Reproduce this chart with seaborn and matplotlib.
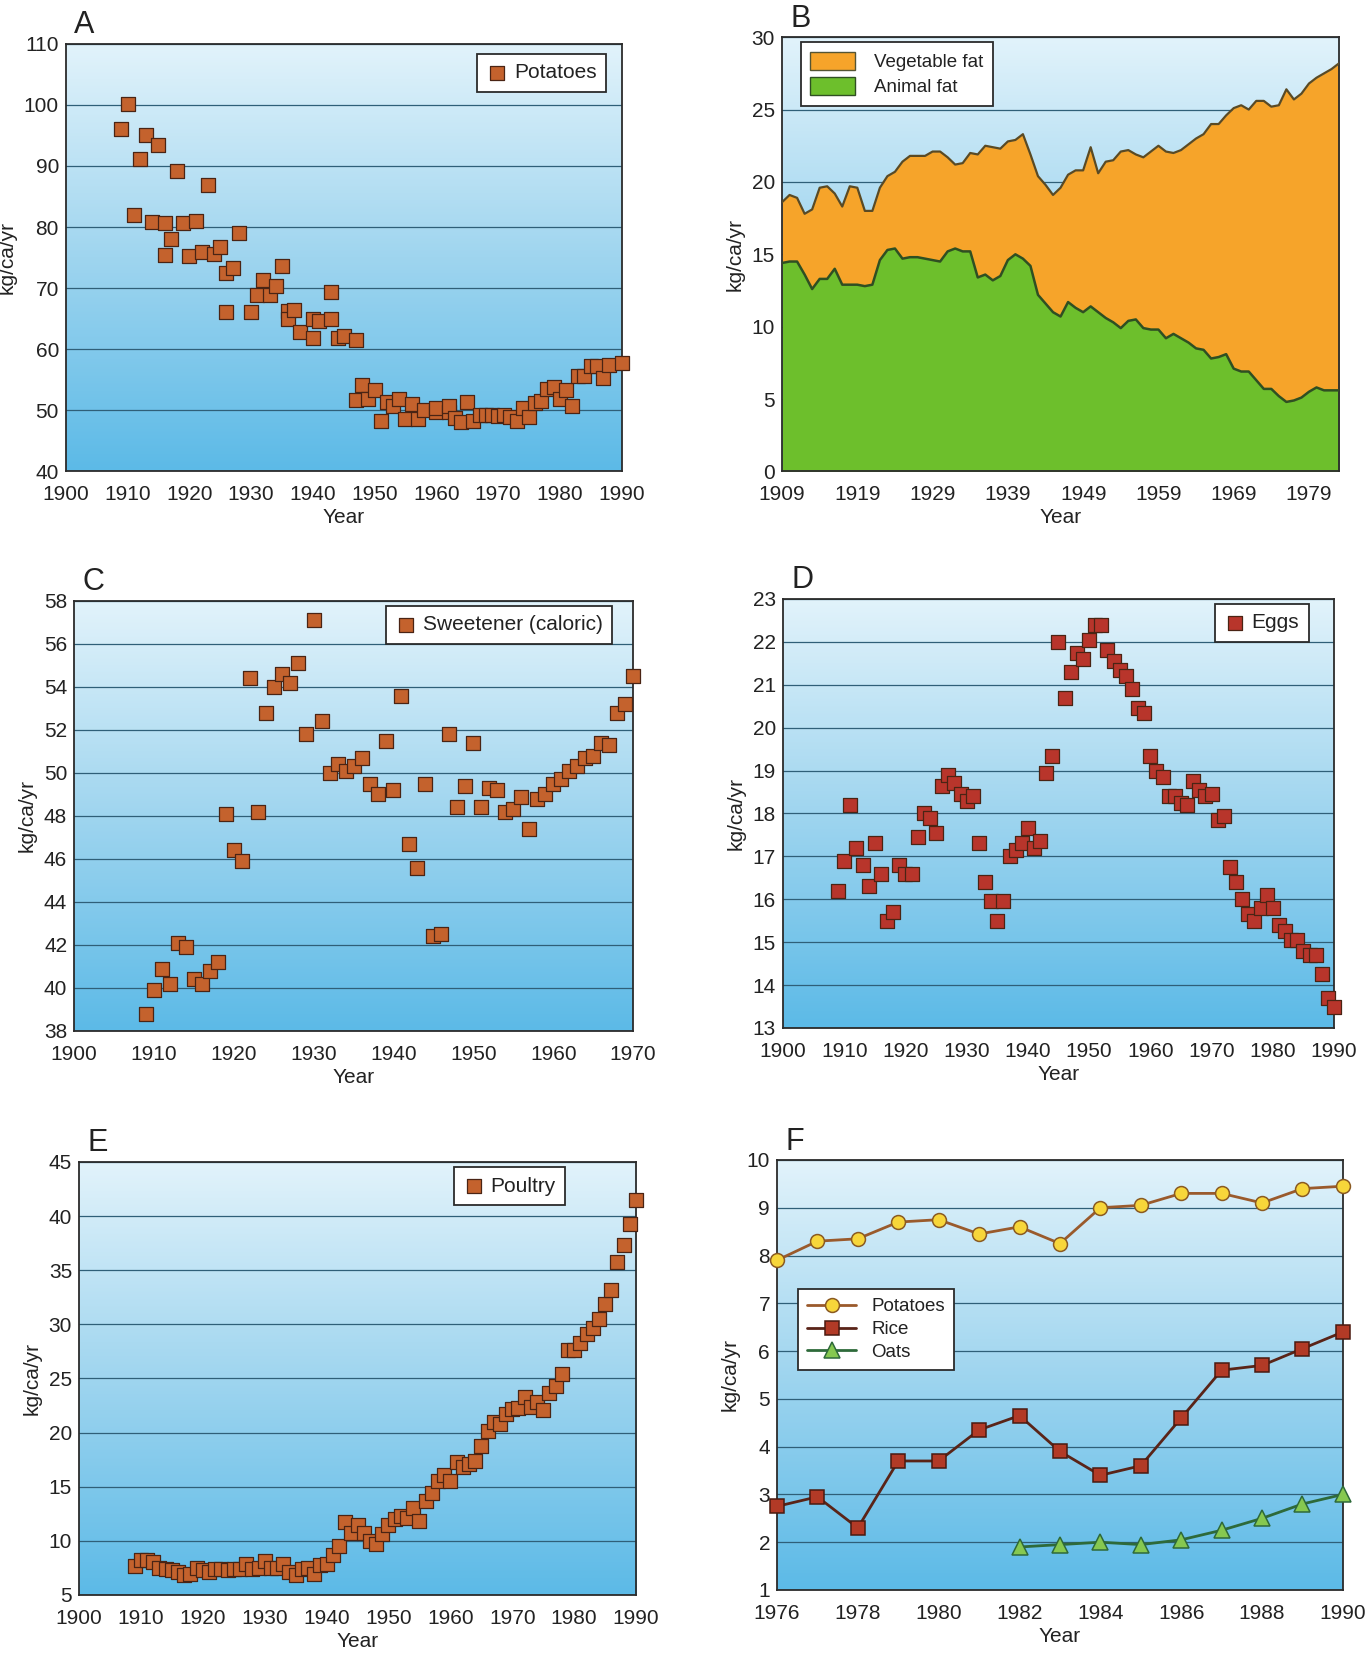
import numpy as np
import matplotlib
matplotlib.use("Agg")
import matplotlib.pyplot as plt
from matplotlib.colors import LinearSegmentedColormap
from matplotlib.patches import Patch
import seaborn as sns

# A - potatoes
potato_years = [1909, 1910, 1911, 1912, 1913, 1914, 1915, 1916, 1916, 1917, 1918, 1919, 1920,
                1921, 1922, 1923, 1924, 1925, 1926, 1926, 1927, 1928, 1930, 1931, 1932, 1933,
                1934, 1935, 1936, 1936, 1937, 1938, 1940, 1940, 1941, 1943, 1943, 1944, 1945,
                1947, 1947, 1948, 1949, 1950, 1951, 1952, 1953, 1954, 1955, 1956, 1957, 1958,
                1960, 1960, 1962, 1962, 1963, 1964, 1965, 1966, 1967, 1968, 1969, 1970, 1971,
                1972, 1973, 1974, 1975, 1976, 1977, 1978, 1979, 1980, 1981, 1982, 1983, 1984,
                1985, 1986, 1987, 1988, 1990]
potato_vals = [96.1, 100.2, 82.0, 91.1, 95.1, 80.8, 93.4, 75.4, 80.7, 78.0, 89.1, 80.6, 75.3,
               81.0, 76.0, 86.9, 75.6, 76.8, 66.1, 72.4, 73.3, 79.0, 66.1, 68.8, 71.4, 68.8,
               70.3, 73.7, 66.3, 65.0, 66.4, 62.8, 61.8, 65.0, 64.7, 65.0, 69.3, 61.9, 62.2,
               61.5, 51.7, 54.1, 51.8, 53.3, 48.2, 51.4, 50.7, 51.8, 48.6, 51.1, 48.6, 50.0,
               49.7, 50.3, 49.7, 50.7, 48.8, 48.1, 51.3, 48.3, 49.2, 49.2, 49.2, 49.0, 49.2,
               48.9, 48.3, 50.4, 48.9, 51.2, 51.6, 53.5, 53.8, 51.8, 53.3, 50.7, 55.6, 55.6,
               57.3, 57.3, 55.3, 57.5, 57.8]

# B - fats (animal on the bottom, total = top of the stack)
fat_years = list(range(1909, 1984))
animal_fat = [14.4, 14.5, 14.5, 13.6, 12.6, 13.3, 13.3, 14.0, 12.9, 12.9, 12.9, 12.8, 12.9,
              14.6, 15.3, 15.4, 14.7, 14.8, 14.8, 14.7, 14.6, 14.5, 15.2, 15.4, 15.2, 15.2,
              13.4, 13.6, 13.2, 13.5, 14.6, 15.0, 14.7, 14.2, 12.2, 11.6, 11.0, 10.7, 11.7,
              11.3, 11.0, 11.4, 11.0, 10.6, 10.3, 9.9, 10.4, 10.5, 9.9, 9.8, 9.8, 9.2, 9.5,
              9.2, 8.9, 8.5, 8.4, 7.8, 7.9, 8.1, 7.1, 6.9, 6.9, 6.3, 5.7, 5.7, 5.2, 4.8, 4.9,
              5.1, 5.5, 5.8, 5.6, 5.6, 5.6]
fat_total = [18.6, 19.1, 18.9, 17.8, 18.1, 19.6, 19.7, 19.2, 18.3, 19.7, 19.6, 18.0, 18.0,
             19.6, 20.4, 20.7, 21.4, 21.8, 21.8, 21.8, 22.1, 22.1, 21.7, 21.2, 21.3, 22.0,
             21.9, 22.5, 22.4, 22.3, 22.8, 22.9, 23.3, 21.9, 20.4, 19.8, 19.1, 19.6, 20.5,
             20.8, 20.8, 22.4, 20.6, 21.4, 21.5, 22.1, 22.2, 21.9, 21.7, 22.1, 22.5, 22.1,
             22.0, 22.2, 22.6, 23.0, 23.3, 24.0, 24.0, 24.6, 25.1, 25.3, 25.0, 25.6, 25.6,
             25.2, 25.3, 26.4, 25.7, 26.1, 26.8, 27.2, 27.5, 27.8, 28.2]

# C - sweetener
sweet_years = list(range(1909, 1971))
sweet_vals = [38.8, 39.9, 40.9, 40.2, 42.1, 41.9, 40.4, 40.2, 40.8, 41.2, 48.1, 46.4, 45.9,
              54.4, 48.2, 52.8, 54.0, 54.6, 54.2, 55.1, 51.8, 57.1, 52.4, 50.0, 50.4, 50.1,
              50.3, 50.7, 49.5, 49.0, 51.5, 49.2, 53.6, 46.7, 45.6, 49.5, 42.4, 42.5, 51.8,
              48.4, 49.4, 51.4, 48.4, 49.3, 49.2, 48.2, 48.3, 48.9, 47.4, 48.8, 49.0, 49.5,
              49.7, 50.1, 50.3, 50.7, 50.8, 51.4, 51.3, 52.8, 53.2, 54.5]

# D - eggs
egg_years = list(range(1909, 1991))
egg_vals = [16.2, 16.9, 18.2, 17.2, 16.8, 16.3, 17.3, 16.6, 15.5, 15.7, 16.8, 16.6, 16.6,
            17.45, 18.0, 17.9, 17.55, 18.65, 18.9, 18.7, 18.45, 18.3, 18.4, 17.3, 16.4, 15.95,
            15.5, 15.95, 17.0, 17.15, 17.3, 17.65, 17.2, 17.35, 18.95, 19.35, 22.0, 20.7,
            21.3, 21.75, 21.6, 22.05, 22.4, 22.4, 21.8, 21.55, 21.35, 21.2, 20.9, 20.45, 20.35,
            19.35, 19.0, 18.85, 18.4, 18.4, 18.25, 18.2, 18.75, 18.55, 18.4, 18.45, 17.85,
            17.95, 16.75, 16.4, 16.0, 15.65, 15.5, 15.8, 16.1, 15.8, 15.4, 15.25, 15.05,
            15.05, 14.8, 14.7, 14.7, 14.25, 13.7, 13.5]

# E - poultry
poultry_years = list(range(1909, 1991))
poultry_vals = [7.7, 8.2, 8.2, 8.0, 7.5, 7.4, 7.3, 7.1, 6.8, 6.9, 7.5, 7.3, 7.1, 7.4, 7.4,
                7.3, 7.4, 7.4, 7.9, 7.4, 7.5, 8.1, 7.5, 7.5, 7.9, 7.1, 6.8, 7.4, 7.5, 6.9,
                7.8, 7.9, 8.7, 9.5, 11.7, 10.7, 11.5, 10.7, 10.0, 9.7, 10.6, 11.5, 12.0,
                12.3, 12.1, 13.0, 11.8, 13.7, 14.4, 15.5, 16.1, 15.5, 17.3, 16.8, 17.1, 17.4,
                18.8, 20.1, 21.0, 20.8, 21.7, 22.2, 22.3, 23.3, 22.4, 22.8, 22.1, 23.7, 24.3,
                25.4, 27.6, 27.6, 28.3, 29.1, 29.7, 30.5, 31.9, 33.2, 35.8, 37.3, 39.3, 41.5]

# F - recent years
recent_years = list(range(1976, 1991))
recent_potatoes = [7.9, 8.3, 8.35, 8.7, 8.75, 8.45, 8.6, 8.25, 9.0, 9.05, 9.3, 9.3, 9.1, 9.4, 9.45]
recent_rice = [2.75, 2.95, 2.3, 3.7, 3.7, 4.35, 4.65, 3.9, 3.4, 3.6, 4.6, 5.6, 5.7, 6.05, 6.4]
oat_years = list(range(1982, 1991))
recent_oats = [1.9, 1.95, 2.0, 1.95, 2.05, 2.25, 2.5, 2.8, 3.0]

sns.set_theme(style="white")
plt.rcParams["font.family"] = ["Liberation Sans", "DejaVu Sans"]
plt.rcParams["text.color"] = "#222222"
plt.rcParams["axes.labelcolor"] = "#222222"
plt.rcParams["xtick.color"] = "#222222"
plt.rcParams["ytick.color"] = "#222222"

BG = LinearSegmentedColormap.from_list("bg", ["#e2f3fb", "#9fd5ef", "#5cbae7"])
BROWN = "#c4622d"
EDGE = "#4a2414"


def style_axes(ax, letter, xlim, ylim, xticks, yticks):
    grad = np.linspace(0, 1, 256).reshape(-1, 1)
    ax.imshow(grad, cmap=BG, aspect="auto", extent=(0, 1, 0, 1),
              transform=ax.transAxes, zorder=-5, origin="upper")
    ax.set_xlim(*xlim)
    ax.set_ylim(*ylim)
    ax.set_xticks(xticks)
    ax.set_yticks(yticks)
    ax.set_axisbelow(True)
    ax.yaxis.grid(True, color="#2f5f78", linewidth=0.9)
    ax.xaxis.grid(False)
    ax.tick_params(axis="both", direction="in", length=6, width=1.1,
                   color="#3f7ea3", labelsize=15)
    ax.tick_params(axis="x", pad=10)
    ax.tick_params(axis="y", pad=5)
    for sp in ax.spines.values():
        sp.set_color("#2b2b2b")
        sp.set_linewidth(1.3)
    ax.set_xlabel("Year", fontsize=15, labelpad=3)
    ax.set_ylabel("kg/ca/yr", fontsize=15, labelpad=5)
    ax.text(0.015, 1.008, letter, transform=ax.transAxes, fontsize=22,
            ha="left", va="bottom")


def box_legend(ax, **kw):
    leg = ax.legend(frameon=True, fancybox=False, framealpha=1, borderaxespad=0,
                    edgecolor="#2b2b2b", **kw)
    leg.get_frame().set_linewidth(1.3)
    return leg


def square_scatter(ax, years, vals, label, color):
    sns.scatterplot(x=years, y=vals, ax=ax, marker="s", s=95, color=color,
                    edgecolor=EDGE, linewidth=0.9, label=label, clip_on=False, zorder=3)


fig = plt.figure(figsize=(13.72, 16.54), dpi=100)

# A
ax = fig.add_axes([0.048, 0.7150, 0.405, 0.2585])
square_scatter(ax, potato_years, potato_vals, "Potatoes", BROWN)
style_axes(ax, "A", (1900, 1990), (40, 110), range(1900, 1991, 10), range(40, 111, 10))
box_legend(ax, loc="upper right", bbox_to_anchor=(0.972, 0.976), fontsize=15,
           handletextpad=0.3, handlelength=1.0, borderpad=0.45)

# B
ax = fig.add_axes([0.570, 0.7150, 0.406, 0.2625])
style_axes(ax, "B", (1909, 1983), (0, 30), range(1909, 1980, 10), range(0, 31, 5))
ax.fill_between(fat_years, 0, animal_fat, color="#6dbf2c", zorder=2, linewidth=0)
ax.fill_between(fat_years, animal_fat, fat_total, color="#f6a42a", zorder=2, linewidth=0)
sns.lineplot(x=fat_years, y=fat_total, ax=ax, color="#5a4a24", linewidth=1.6, zorder=3)
sns.lineplot(x=fat_years, y=animal_fat, ax=ax, color="#2f4f22", linewidth=1.8, zorder=3)
fat_handles = [Patch(facecolor="#f6a42a", edgecolor="#555533", label="Vegetable fat"),
               Patch(facecolor="#6dbf2c", edgecolor="#2f4f22", label="Animal fat")]
box_legend(ax, handles=fat_handles, loc="upper left", bbox_to_anchor=(0.034, 0.988),
           fontsize=13.5, handlelength=2.4, handleheight=1.1, handletextpad=1.0,
           borderpad=0.5, labelspacing=0.3)

# C
ax = fig.add_axes([0.054, 0.3767, 0.4074, 0.2600])
square_scatter(ax, sweet_years, sweet_vals, "Sweetener (caloric)", BROWN)
style_axes(ax, "C", (1900, 1970), (38, 58), range(1900, 1971, 10), range(38, 59, 2))
box_legend(ax, loc="upper right", bbox_to_anchor=(0.962, 0.988), fontsize=15,
           handletextpad=0.3, handlelength=1.0, borderpad=0.45)

# D
ax = fig.add_axes([0.5707, 0.3785, 0.4016, 0.2594])
square_scatter(ax, egg_years, egg_vals, "Eggs", "#b8352b")
style_axes(ax, "D", (1900, 1990), (13, 23), range(1900, 1991, 10), range(13, 24))
box_legend(ax, loc="upper right", bbox_to_anchor=(0.954, 0.988), fontsize=15,
           handletextpad=0.3, handlelength=1.0, borderpad=0.45)

# E
ax = fig.add_axes([0.0576, 0.0357, 0.406, 0.2618])
square_scatter(ax, poultry_years, poultry_vals, "Poultry", BROWN)
style_axes(ax, "E", (1900, 1990), (5, 45), range(1900, 1991, 10), range(5, 46, 5))
box_legend(ax, loc="upper right", bbox_to_anchor=(0.873, 0.988), fontsize=15,
           handletextpad=0.3, handlelength=1.0, borderpad=0.45)

# F
ax = fig.add_axes([0.5663, 0.0387, 0.4125, 0.2600])
style_axes(ax, "F", (1976, 1990), (1, 10), range(1976, 1991, 2), range(1, 11))
sns.lineplot(x=recent_years, y=recent_potatoes, ax=ax, color="#9a5a2c", linewidth=2,
             marker="o", markersize=10, markerfacecolor="#f7d63a", markeredgecolor="#8a5a22",
             markeredgewidth=1.1, label="Potatoes", clip_on=False, zorder=3)
sns.lineplot(x=recent_years, y=recent_rice, ax=ax, color="#5a2418", linewidth=2,
             marker="s", markersize=10, markerfacecolor="#b23a26", markeredgecolor="#4a1a10",
             markeredgewidth=1.1, label="Rice", clip_on=False, zorder=3)
sns.lineplot(x=oat_years, y=recent_oats, ax=ax, color="#2e6a3a", linewidth=2,
             marker="^", markersize=11, markerfacecolor="#86c850", markeredgecolor="#2e6a3a",
             markeredgewidth=1.1, label="Oats", clip_on=False, zorder=3)
ax.set_xlim(1976, 1990)
ax.set_ylim(1, 10)
box_legend(ax, loc="upper left", bbox_to_anchor=(0.037, 0.70), fontsize=13.5,
           handlelength=2.6, handletextpad=0.8, borderpad=0.5, labelspacing=0.3)

fig.savefig("out.png", dpi=100)
